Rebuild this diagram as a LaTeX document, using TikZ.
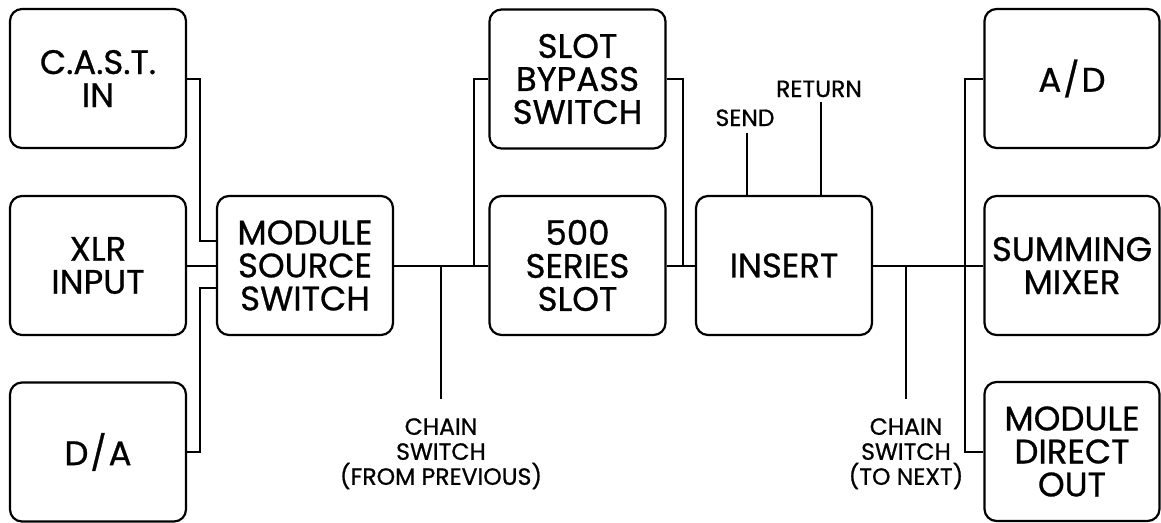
\documentclass[tikz,border=0pt]{standalone}
\usepackage{fontspec}
\setmainfont{Poppins}[FakeBold=0.8,AutoFakeBold=0.8]
\begin{document}
\begin{tikzpicture}[x=1pt,y=-1pt,
  box/.style={draw, line width=2.2pt, rounded corners=12pt, minimum width=176pt, minimum height=139pt, align=center, font=\fontsize{34}{33}\selectfont\bfseries, inner sep=0pt},
  wire/.style={line width=2pt},
  lbl/.style={font=\fontsize{23.5}{25}\selectfont\bfseries, align=center, inner sep=0pt}]
\useasboundingbox (0,0) rectangle (1161,522);
% boxes
\node[box] (cast) at (98,78.5) {C.A.S.T.\\IN};
\node[box] (xlr) at (98,265.5) {XLR\\INPUT};
\node[box] (da) at (98,452) {D\kern2pt/\kern2pt A};
\node[box] (mss) at (305,265.5) {MODULE\\SOURCE\\SWITCH};
\node[box] (byp) at (577.5,79) {SLOT\\BYPASS\\SWITCH};
\node[box] (slot) at (577.5,265.5) {500\\SERIES\\SLOT};
\node[box] (ins) at (784,265.5) {INSERT};
\node[box, minimum width=175pt] (ad) at (1072,78.5) {A\kern2pt/\kern2pt D};
\node[box, minimum width=175pt] (sum) at (1072,265.5) {SUMMING\\MIXER};
\node[box, minimum width=175pt] (mdo) at (1072,451.5) {MODULE\\DIRECT\\OUT};
% labels
\node[lbl, anchor=north] (cpl) at (441,418) {CHAIN\\SWITCH\\(FROM PREVIOUS)};
\node[lbl, anchor=north] (cnl) at (906,418) {CHAIN\\SWITCH\\(TO NEXT)};
\node[lbl, anchor=base] (sendl) at (745,126) {SEND};
\node[lbl, anchor=base] (retl) at (819,97) {RETURN};
% coordinates
\coordinate (jb) at (474,265.5);
\coordinate (cp) at (441,265.5);
\coordinate (cpe) at (441,399);
\coordinate (cn) at (906,265.5);
\coordinate (cne) at (906,399);
\coordinate (se) at (747,133);
\coordinate (re) at (821,102);
% wires
\draw[wire] (cast.east) -- ++(13,0) |- (mss.west |- 0,241);
\draw[wire] (xlr.east) -- (mss.west);
\draw[wire] (da.east) -- ++(13,0) |- (mss.west |- 0,288);
\draw[wire] (mss.east) -- (slot.west);
\draw[wire] (jb) |- (byp.west);
\draw[wire] (byp.east) -- ++(16,0) |- (ins.west);
\draw[wire] (slot.east) -- (ins.west);
\draw[wire] (cp) -- (cpe);
\draw[wire] (cn) -- (cne);
\draw[wire] (ins.north -| se) -- (se);
\draw[wire] (ins.north -| re) -- (re);
\draw[wire] (ins.east) -- (sum.west);
\draw[wire] (ad.west) -- ++(-18,0) |- (mdo.west);
\end{tikzpicture}
\end{document}
